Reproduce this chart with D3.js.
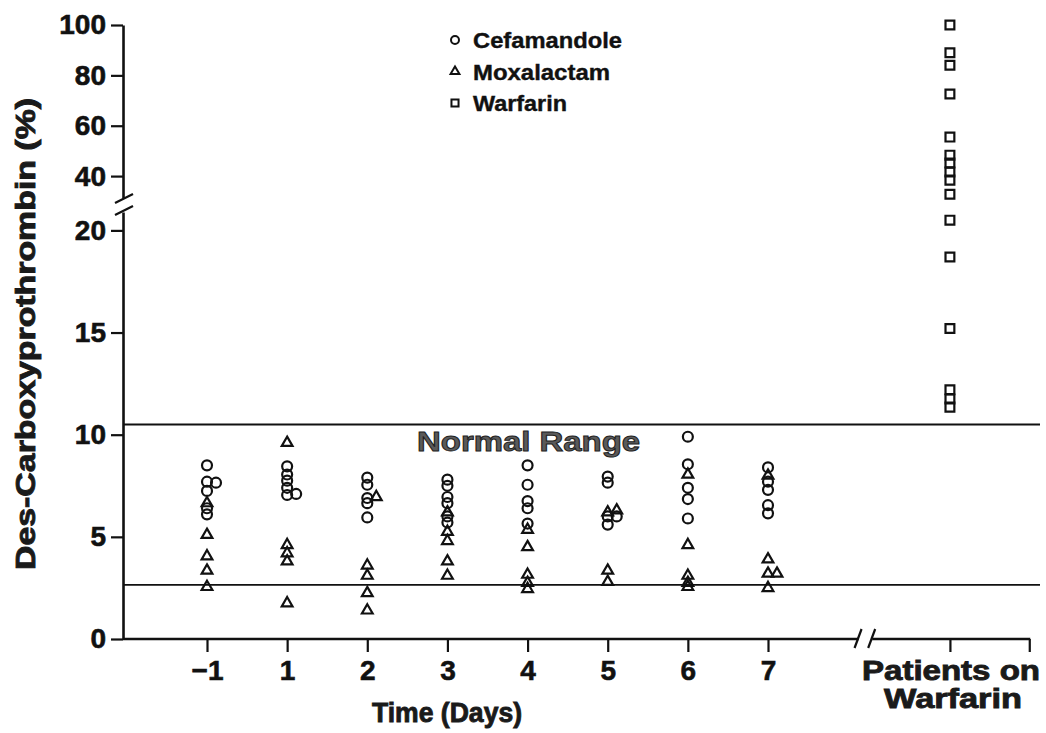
<!DOCTYPE html>
<html>
<head>
<meta charset="utf-8">
<script src="https://cdn.jsdelivr.net/npm/d3@7"></script>
<style>
  body { margin: 0; background: #fff; }
  svg { display: block; font-family: "Liberation Sans", Arial, sans-serif; font-weight: bold; }
</style>
</head>
<body>
<svg id="chart" width="1046" height="733"></svg>
<script>
// values (percent des-carboxyprothrombin)
const days = ["\u22121", "1", "2", "3", "4", "5", "6", "7"];
const cefamandole = [
  [8.5, 7.7, 7.65, 7.25, 6.4, 6.1],
  [8.45, 8.05, 7.75, 7.4, 7.05, 7.1],
  [7.9, 7.55, 6.9, 6.65, 5.95],
  [7.8, 7.5, 6.95, 6.65, 6.0, 5.7],
  [8.5, 7.55, 6.75, 6.4, 5.65],
  [7.95, 7.65, 6.0, 6.0, 5.6],
  [9.9, 8.55, 7.4, 6.85, 5.9],
  [8.4, 7.7, 7.3, 6.55, 6.15]
];
const moxalactam = [
  [6.65, 5.1, 4.05, 3.35, 2.55],
  [9.6, 4.6, 4.2, 3.8, 1.75],
  [6.95, 3.6, 3.1, 2.25, 1.4],
  [6.2, 5.25, 4.8, 3.8, 3.1],
  [5.35, 4.5, 3.15, 2.75, 2.45],
  [6.2, 6.3, 3.35, 2.8],
  [8.05, 4.6, 3.1, 2.75, 2.55],
  [8.0, 3.9, 3.2, 3.2, 2.5]
];
const warfarin = [100, 89, 84, 72.6, 55.5, 48.3, 45.2, 41.6, 38.4, 32.8, 20.5, 18.7, 15.2, 12.2, 11.75, 11.35];
const lowTicks = [0, 5, 10, 15, 20];
const highTicks = [40, 60, 80, 100];
const normalRange = [2.65, 10.5];
const legendNames = ["Cefamandole", "Moxalactam", "Warfarin"];

const svg = d3.select('#chart');
const ink = '#111';

// x: one slot per day, warfarin column further right after a break
const xs = d3.scaleLinear().domain([0, 7]).range([207, 768]);
const warfSlot = 9.27, startSlot = -1.048, endSlot = 10.26;
const breakSlots = [8.13, 8.3];

// y is broken in two pieces
const yLow = d3.scaleLinear().domain([0, 20.9]).range([639, 212]);
const yHigh = d3.scaleLinear().domain([31.3, 100]).range([198, 25]);
const yv = v => v > 21 ? yHigh(v) : yLow(v);
const axisX = xs(startSlot);

// normal range lines
svg.selectAll('.nr').data(normalRange).enter().append('line')
  .attr('x1', axisX).attr('x2', 1040)
  .attr('y1', d => yLow(d)).attr('y2', d => yLow(d))
  .attr('stroke', ink).attr('stroke-width', 1.8);

svg.append('text')
  .attr('x', xs(4) + 1).attr('y', yLow(normalRange[1]) + 27)
  .attr('text-anchor', 'middle').attr('font-size', 28)
  .attr('textLength', 223).attr('lengthAdjust', 'spacingAndGlyphs')
  .attr('fill', '#5a5a5a').attr('stroke', '#222').attr('stroke-width', 1)
  .text('Normal Range');

// y axes
function styleAxis(g) {
  g.selectAll('path.domain').attr('stroke', ink).attr('stroke-width', 2.6);
  g.selectAll('.tick line').attr('stroke', ink).attr('stroke-width', 2.2);
  g.selectAll('.tick text').attr('fill', ink).attr('font-size', 28)
    .attr('stroke', ink).attr('stroke-width', 0.6)
    .attr('font-family', '"Liberation Sans", Arial, sans-serif').attr('font-weight', 'bold');
}
svg.append('g').attr('transform', `translate(${axisX},0)`)
  .call(d3.axisLeft(yLow).tickValues(lowTicks).tickSize(12).tickSizeOuter(0).tickPadding(5))
  .call(styleAxis);
svg.append('g').attr('transform', `translate(${axisX},0)`)
  .call(d3.axisLeft(yHigh).tickValues(highTicks).tickSize(12).tickSizeOuter(0).tickPadding(5))
  .call(styleAxis);

// y break marks
[yHigh.range()[0] + 1, yLow.range()[1] - 1].forEach(y => {
  svg.append('line').attr('x1', axisX - 8).attr('y1', y + 4).attr('x2', axisX + 10).attr('y2', y - 5)
    .attr('stroke', ink).attr('stroke-width', 2.2);
});

// x axis
const xTicks = days.map((d, i) => i).concat([warfSlot, endSlot]);
const gx = svg.append('g').attr('transform', `translate(0,${yLow(0)})`)
  .call(d3.axisBottom(xs).tickValues(xTicks)
    .tickFormat((d, i) => i < days.length ? days[i] : '')
    .tickSize(13).tickSizeOuter(0).tickPadding(8))
  .call(styleAxis);
gx.select('path.domain').remove();
gx.append('line').attr('x1', axisX).attr('x2', xs(breakSlots[0]))
  .attr('stroke', ink).attr('stroke-width', 2.6);
gx.append('line').attr('x1', xs(breakSlots[1])).attr('x2', xs(endSlot) + 1)
  .attr('stroke', ink).attr('stroke-width', 2.6);
breakSlots.forEach(s => {
  const bx = xs(s);
  gx.append('line').attr('x1', bx - 4).attr('y1', 9).attr('x2', bx + 3).attr('y2', -10)
    .attr('stroke', ink).attr('stroke-width', 2.2);
});

// points
const points = [];
days.forEach((d, i) => {
  cefamandole[i].forEach(v => points.push({ slot: i, v: v, kind: 'circle' }));
  moxalactam[i].forEach(v => points.push({ slot: i, v: v, kind: 'triangle' }));
});
warfarin.forEach(v => points.push({ slot: warfSlot, v: v, kind: 'square' }));

// nudge points that sit on top of each other
const placed = {};
points.forEach(p => {
  p.py = yv(p.v);
  const col = placed[p.slot] || (placed[p.slot] = []);
  const dx = [0, 9, -9, 18].find(c => !col.some(q => Math.abs(q.py - p.py) < 4 && Math.abs(q.dx - c) < 6));
  p.dx = dx === undefined ? 0 : dx;
  col.push(p);
});

const symbolType = { circle: d3.symbolCircle, triangle: d3.symbolTriangle, square: d3.symbolSquare };
const symbolSize = { circle: 78, triangle: 50, square: 78 };

svg.append('g').selectAll('path').data(points).enter().append('path')
  .attr('d', p => d3.symbol().type(symbolType[p.kind]).size(symbolSize[p.kind])())
  .attr('transform', p => `translate(${xs(p.slot) + p.dx},${p.py})`)
  .attr('fill', 'none').attr('stroke', ink).attr('stroke-width', 2.2);

// legend
const legendKinds = ['circle', 'triangle', 'square'];
const legendWidths = [149, 137, 94];
const lg = svg.append('g').attr('transform', 'translate(455,40)');
legendNames.forEach((name, i) => {
  lg.append('path')
    .attr('d', d3.symbol().type(symbolType[legendKinds[i]]).size(i === 1 ? 34 : 50)())
    .attr('transform', `translate(0,${i * 31.5})`)
    .attr('fill', 'none').attr('stroke', ink).attr('stroke-width', 2);
  lg.append('text').attr('x', 18).attr('y', i * 31.5 + 8)
    .attr('font-size', 22).attr('fill', ink).attr('stroke', ink).attr('stroke-width', 0.4)
    .attr('textLength', legendWidths[i]).attr('lengthAdjust', 'spacingAndGlyphs')
    .text(name);
});

// titles
const title = (x, y, len, txt, rot) => svg.append('text')
  .attr('transform', `translate(${x},${y})` + (rot ? ' rotate(-90)' : ''))
  .attr('text-anchor', 'middle').attr('font-size', 28)
  .attr('fill', '#1a1a1a').attr('stroke', '#1a1a1a').attr('stroke-width', 0.9)
  .attr('textLength', len).attr('lengthAdjust', 'spacingAndGlyphs')
  .text(txt);

title(35, 334, 472, 'Des-Carboxyprothrombin (%)', true);
title(447, 722, 150, 'Time (Days)');
title(951, 680, 178, 'Patients on');
title(953, 708, 138, 'Warfarin');
</script>
</body>
</html>
